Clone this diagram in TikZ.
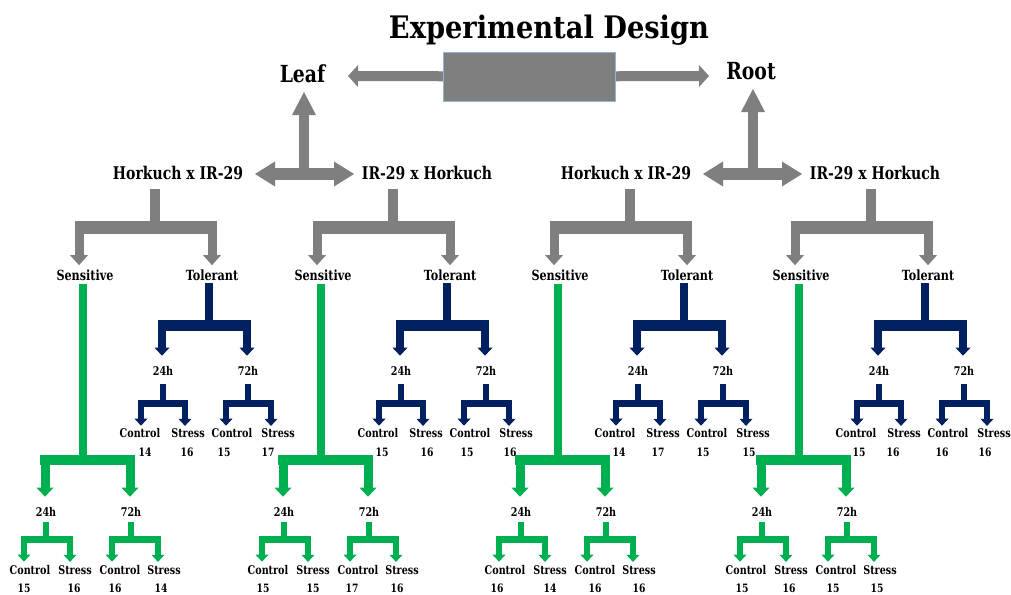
\documentclass[tikz,border=0pt]{standalone}
\usepackage{fontspec}
\setmainfont{DejaVu Serif}
\newfontfamily\gfont{DejaVu Serif}[FakeStretch=0.8]
\newfontfamily\tfont{DejaVu Serif}[FakeStretch=0.88]
\usetikzlibrary{arrows.meta}
\definecolor{ggray}{RGB}{127,127,127}
\definecolor{gnavy}{RGB}{0,32,96}
\definecolor{ggreen}{RGB}{0,176,80}
\definecolor{gedge}{RGB}{150,180,210}

\newcommand\Fork[8]{%
  \coordinate (#2-m) at (#3,#4);
  \coordinate (#2-l) at (#5,#4);
  \coordinate (#2-r) at (#6,#4);
  \draw[#1 stem] (#2-m |- #2.south) -- (#2-m);
  \draw[#1 bar] (#2-l) -- (#2-r);
  \draw[#1 arrow] (#2-l) -- (#2-l |- #7.north);
  \draw[#1 arrow] (#2-r) -- (#2-r |- #8.north);
}

\newcommand\Quad[2]{%
  \node[cls] (#1sen) at ({#2-70},280) {Sensitive};
  \node[cls] (#1tol) at ({#2+57},280) {Tolerant};
  \Fork{gray}{#1x}{#2}{227}{#2-76}{#2+57}{#1sen}{#1tol}
  % tolerant branch
  \node[tm] (#1b24) at ({#2+8},375) {24h};
  \node[tm] (#1b72) at ({#2+93},375) {72h};
  \Fork{navyL}{#1tol}{#2+54}{325}{#2+7}{#2+92}{#1b24}{#1b72}
  \node[trt] (#1bc1) at ({#2-15},437) {Control};
  \node[trt] (#1bs1) at ({#2+33},437) {Stress};
  \node[trt] (#1bc2) at ({#2+77},437) {Control};
  \node[trt] (#1bs2) at ({#2+123},437) {Stress};
  \Fork{navyS}{#1b24}{#2+8}{403}{#2-14}{#2+30}{#1bc1}{#1bs1}
  \Fork{navyS}{#1b72}{#2+93}{403}{#2+71}{#2+116}{#1bc2}{#1bs2}
  % sensitive branch
  \node[tm] (#1g24) at ({#2-109},516) {24h};
  \node[tm] (#1g72) at ({#2-24},516) {72h};
  \Fork{greenL}{#1sen}{#2-72}{460}{#2-110}{#2-25}{#1g24}{#1g72}
  \node[trt] (#1gc1) at ({#2-125},574) {Control};
  \node[trt] (#1gs1) at ({#2-80},574) {Stress};
  \node[trt] (#1gc2) at ({#2-35},574) {Control};
  \node[trt] (#1gs2) at ({#2+9},574) {Stress};
  \Fork{greenS}{#1g24}{#2-109}{539}{#2-131}{#2-85}{#1gc1}{#1gs1}
  \Fork{greenS}{#1g72}{#2-24}{539}{#2-43}{#2+3}{#1gc2}{#1gs2}
}

\newcommand\Nums[9]{% #1 y, then 4 pairs x/label
  \node[num] at (#2,#1) {#3};
  \node[num] at (#4,#1) {#5};
  \node[num] at (#6,#1) {#7};
  \node[num] at (#8,#1) {#9};
}

\begin{document}
\begin{tikzpicture}[x=1pt,y=-1pt,
  lblbase/.style={inner sep=0pt, anchor=base, text=black},
  title/.style={lblbase, font=\tfont\bfseries\fontsize{31}{31}\selectfont},
  organ/.style={lblbase, font=\gfont\bfseries\fontsize{23.5}{23.5}\selectfont},
  cross/.style={lblbase, font=\gfont\bfseries\fontsize{17.5}{17.5}\selectfont},
  cls/.style={lblbase, font=\gfont\bfseries\fontsize{14}{14}\selectfont},
  tm/.style={lblbase, font=\gfont\bfseries\fontsize{12}{12}\selectfont},
  trt/.style={lblbase, font=\gfont\bfseries\fontsize{12}{12}\selectfont},
  num/.style={lblbase, font=\gfont\bfseries\fontsize{11.5}{11.5}\selectfont},
  % gray
  gray stem/.style={draw=ggray, line width=10pt, shorten <=10pt},
  gray bar/.style={draw=ggray, line width=13pt, shorten <=-4.5pt, shorten >=-4.5pt},
  gray arrow/.style={draw=ggray, line width=9pt, shorten >=4pt,
     -{Triangle[width=18pt,length=10pt,line width=0pt]}},
  % navy large / small
  navyL stem/.style={draw=gnavy, line width=8pt, shorten <=3pt},
  navyL bar/.style={draw=gnavy, line width=11pt, shorten <=-4pt, shorten >=-4pt},
  navyL arrow/.style={draw=gnavy, line width=8pt, shorten >=10pt,
     -{Triangle[width=15pt,length=8pt,line width=0pt]}},
  navyS stem/.style={draw=gnavy, line width=6pt, shorten <=9pt},
  navyS bar/.style={draw=gnavy, line width=7pt, shorten <=-3pt, shorten >=-3pt},
  navyS arrow/.style={draw=gnavy, line width=6pt, shorten >=2pt,
     -{Triangle[width=13pt,length=7pt,line width=0pt]}},
  % green large / small
  greenL stem/.style={draw=ggreen, line width=8pt, shorten <=4pt},
  greenL bar/.style={draw=ggreen, line width=10pt, shorten <=-5pt, shorten >=-5pt},
  greenL arrow/.style={draw=ggreen, line width=9pt, shorten >=10pt,
     -{Triangle[width=17pt,length=9pt,line width=0pt]}},
  greenS stem/.style={draw=ggreen, line width=6pt, shorten <=6pt},
  greenS bar/.style={draw=ggreen, line width=7pt, shorten <=-3pt, shorten >=-3pt},
  greenS arrow/.style={draw=ggreen, line width=6pt, shorten >=3pt,
     -{Triangle[width=13pt,length=7pt,line width=0pt]}},
  % top arrows
  top arrow/.style={draw=ggray, line width=10pt,
     -{Triangle[width=22pt,length=10pt,line width=0pt]}},
  cross v/.style={draw=ggray, line width=10pt,
     -{Triangle[width=24pt,length=23pt,line width=0pt]}},
  cross h/.style={draw=ggray, line width=12pt,
     {Triangle[width=25pt,length=20pt,line width=0pt]}-{Triangle[width=25pt,length=20pt,line width=0pt]}},
  box/.style={fill=ggray, draw=gedge, line width=0.6pt, minimum width=172pt, minimum height=49pt, inner sep=0pt}
]
\useasboundingbox (0,0) rectangle (1011,594);
\fill[white] (0,0) rectangle (1011,594);

% title and organs
\node[title] (ttl) at (549,38) {Experimental Design};
\node[organ] (leaf) at (302.5,82) {Leaf};
\node[organ] (root) at (751,79) {Root};

% top double arrow with central box
\coordinate (tl) at (348,76);
\coordinate (tr) at (709,76);
\coordinate (bc) at (529,76.5);
\draw[top arrow] (bc) -- (tl);
\draw[top arrow] (bc) -- (tr);
\node[box] (box) at (bc) {};

% cross labels
\node[cross] (q1x) at (178,179) {Horkuch x IR-29};
\node[cross] (q2x) at (427,179) {IR-29 x Horkuch};
\node[cross] (q3x) at (626,179) {Horkuch x IR-29};
\node[cross] (q4x) at (875,179) {IR-29 x Horkuch};

% leaf cross arrows
\coordinate (cl) at (304,174);
\coordinate (clu) at (304,92);
\coordinate (clw) at (255,174);
\coordinate (cle) at (354,174);
\draw[cross v] (cl) -- (clu);
\draw[cross h] (clw) -- (cle);
% root cross arrows
\coordinate (cr) at (753,174);
\coordinate (cru) at (753,89);
\coordinate (crw) at (703,174);
\coordinate (cre) at (802,174);
\draw[cross v] (cr) -- (cru);
\draw[cross h] (crw) -- (cre);

% four sub-trees
\Quad{q1}{155}
\Quad{q2}{393}
\Quad{q3}{630}
\Quad{q4}{871}

% sample counts, tolerant branch
\Nums{456}{145}{14}{187}{16}{224}{15}{268}{17}
\Nums{456}{382}{15}{427}{16}{467}{15}{510}{16}
\Nums{456}{619}{14}{658}{17}{703}{15}{749}{15}
\Nums{456}{859}{15}{893}{16}{942}{16}{985}{16}
% sample counts, sensitive branch
\Nums{592}{24}{15}{74}{16}{115}{16}{161}{14}
\Nums{592}{263}{15}{313}{15}{352}{17}{397}{16}
\Nums{592}{497}{16}{550}{14}{595}{16}{639}{16}
\Nums{592}{742}{15}{789}{16}{833}{15}{877}{15}
\end{tikzpicture}
\end{document}
